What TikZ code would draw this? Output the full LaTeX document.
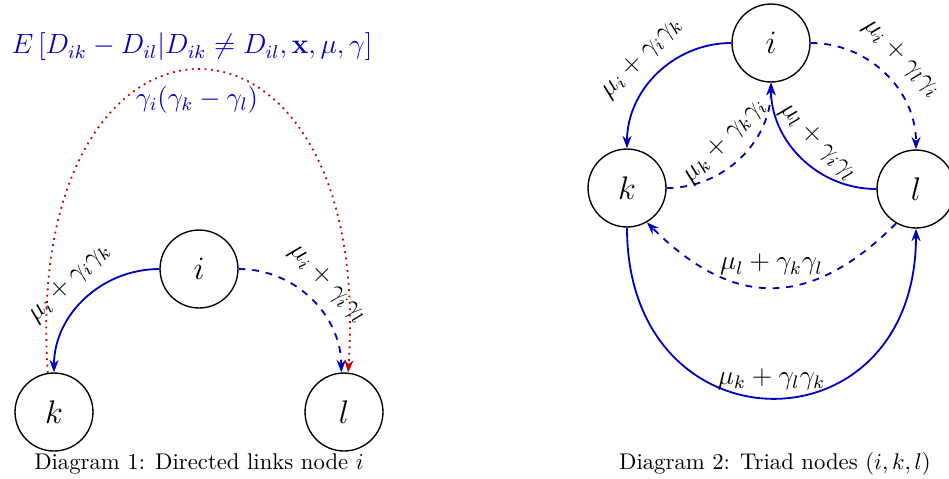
\documentclass[tikz,border=0pt]{standalone}
\usetikzlibrary{arrows.meta}
\definecolor{lblue}{RGB}{0,0,190}
\definecolor{dred}{RGB}{200,0,0}
\begin{document}
\begin{tikzpicture}[x=0.44pt,y=-0.44pt,
  vnode/.style={circle,draw,semithick,minimum size=34.3pt,inner sep=0pt,font=\Large},
  link/.style={lblue,thick,-{Stealth[length=5.5pt,width=4pt]}},
  redlink/.style={dred,thick,dotted,-{Stealth[length=5.5pt,width=4pt]}},
  elabel/.style={black,font=\large,inner sep=1pt},
  slab/.style={elabel,sloped,above=4pt},
  blab/.style={lblue,font=\large,inner sep=1pt},
  captext/.style={font=\normalsize,inner sep=1pt}]
\useasboundingbox (0,0) rectangle (949,478);
% Diagram 1
\node[vnode] (i1) at (199,269) {$i$};
\node[vnode] (k1) at (54,412) {$k$};
\node[vnode] (l1) at (344,412) {$l$};
\draw[link] (i1.west) to[out=180,in=90] node[slab] {$\mu_i+\gamma_i\gamma_k$} (k1.north);
\draw[link,dashed] (i1.east) to[out=0,in=90] node[slab] {$\mu_i+\gamma_i\gamma_l$} (l1.94);
\draw[redlink] (k1.99) .. controls (20,-31) and (375,-31) .. (l1.84);
\node[blab,scale=1.02] (E) at (192,47) {$E\left[D_{ik}-D_{il}|D_{ik}\neq D_{il},\mathbf{x},\mu,\gamma\right]$};
\node[blab] (g) at (197,100) {$\gamma_i(\gamma_k-\gamma_l)$};
\node[captext] (c1) at (199,464) {Diagram 1: Directed links node $i$};
% Diagram 2
\node[vnode] (i2) at (771,43) {$i$};
\node[vnode] (k2) at (627,188) {$k$};
\node[vnode] (l2) at (916,189) {$l$};
\draw[link] (i2.west) to[out=180,in=90] node[slab] {$\mu_i+\gamma_i\gamma_k$} (k2.north);
\draw[link,dashed] (i2.east) to[out=0,in=90] node[slab] {$\mu_i+\gamma_l\gamma_i$} (l2.north);
\draw[link,dashed] (k2.east) to[out=0,in=-90] node[slab] {$\mu_k+\gamma_k\gamma_i$} (i2.south);
\draw[link] (l2.west) to[out=180,in=-90] node[slab] {$\mu_l+\gamma_i\gamma_l$} (i2.south);
\draw[link,dashed] (l2.240) to[out=225,in=315,looseness=1.25] node[elabel,above=4pt] {$\mu_l+\gamma_k\gamma_l$} (k2.300);
\draw[link] (k2.south) to[out=-90,in=-90,looseness=2] node[elabel,above=2pt] {$\mu_k+\gamma_l\gamma_k$} (l2.south);
\node[captext] (c2) at (775,464) {Diagram 2: Triad nodes $(i,k,l)$};
\end{tikzpicture}
\end{document}
